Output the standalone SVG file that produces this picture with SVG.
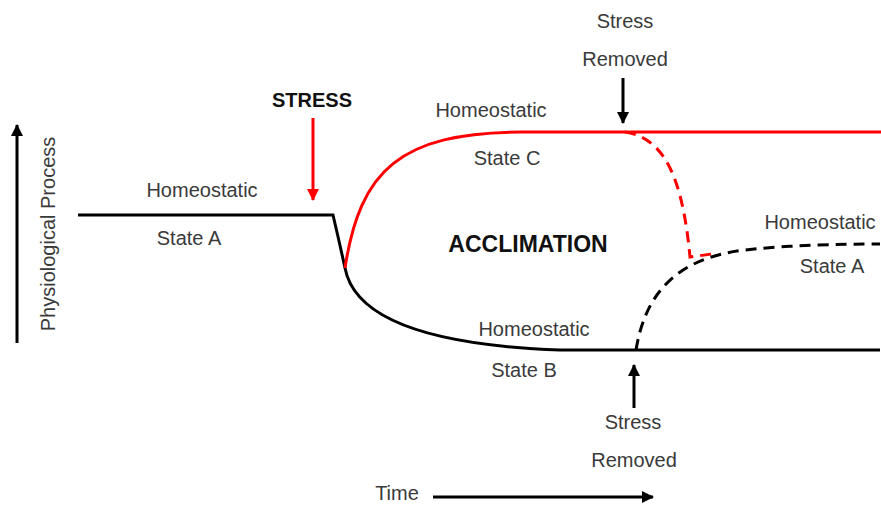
<svg xmlns="http://www.w3.org/2000/svg" width="881" height="505" viewBox="0 0 881 505">
<style>
  .t { font-family: "Liberation Sans", Arial, sans-serif; font-size: 20px; fill: #3a3a3a; text-anchor: middle; }
  .b { font-family: "Liberation Sans", Arial, sans-serif; font-weight: bold; fill: #111; text-anchor: middle; }
  .k { fill: none; stroke: #000; stroke-width: 3; }
  .r { fill: none; stroke: #ff0000; stroke-width: 3; }
  .dash { stroke-dasharray: 11 7; }
</style>
<defs>
  <marker id="ahK" markerUnits="userSpaceOnUse" markerWidth="12" markerHeight="12" refX="11" refY="6" orient="auto">
    <path d="M0,0 L12,6 L0,12 z" fill="#000"/>
  </marker>
  <marker id="ahR" markerUnits="userSpaceOnUse" markerWidth="12" markerHeight="12" refX="11" refY="6" orient="auto">
    <path d="M0,0 L12,6 L0,12 z" fill="#ff0000"/>
  </marker>
</defs>
<rect width="881" height="505" fill="#fff"/>

<g id="curves">
  <path class="k" d="M78,215 L333,215 Q340,245 345,268 C352,305 395,344 560,350 L880,350"/>
  <path class="r" d="M345,268 C360,170 400,133 520,132 L881,132"/>
  <path class="r dash" d="M625,132 C662,138 682,172 690,257 L712,254"/>
  <path class="k dash" d="M636,350 C645,295 675,258 745,250 C790,245 840,244 880,244"/>
</g>

<g id="connectors">
  <line class="k" x1="17" y1="343" x2="17" y2="125" marker-end="url(#ahK)"/>
  <line class="r" x1="313" y1="118" x2="313" y2="200" marker-end="url(#ahR)"/>
  <line class="k" x1="623" y1="78" x2="623" y2="123" marker-end="url(#ahK)"/>
  <line class="k" x1="634" y1="408" x2="634" y2="365" marker-end="url(#ahK)"/>
  <line class="k" x1="433" y1="497" x2="653" y2="497" marker-end="url(#ahK)"/>
</g>

<g id="axis-y-label"><text class="t" transform="translate(55,234) rotate(-90)">Physiological Process</text></g>
<g id="axis-x-label"><text class="t" x="397" y="500">Time</text></g>
<g id="stress"><text class="b" x="312" y="107" font-size="20">STRESS</text></g>
<g id="state-a-left"><text class="t" x="202" y="197">Homeostatic</text><text class="t" x="189" y="245">State A</text></g>
<g id="state-c"><text class="t" x="491" y="117">Homeostatic</text><text class="t" x="507" y="165">State C</text></g>
<g id="acclimation"><text class="b" x="528" y="252" font-size="23">ACCLIMATION</text></g>
<g id="state-b"><text class="t" x="534" y="336">Homeostatic</text><text class="t" x="524" y="377">State B</text></g>
<g id="state-a-right"><text class="t" x="820" y="229">Homeostatic</text><text class="t" x="832" y="273">State A</text></g>
<g id="stress-removed-top"><text class="t" x="625" y="28">Stress</text><text class="t" x="625" y="66">Removed</text></g>
<g id="stress-removed-bottom"><text class="t" x="633" y="429">Stress</text><text class="t" x="634" y="467">Removed</text></g>
</svg>
